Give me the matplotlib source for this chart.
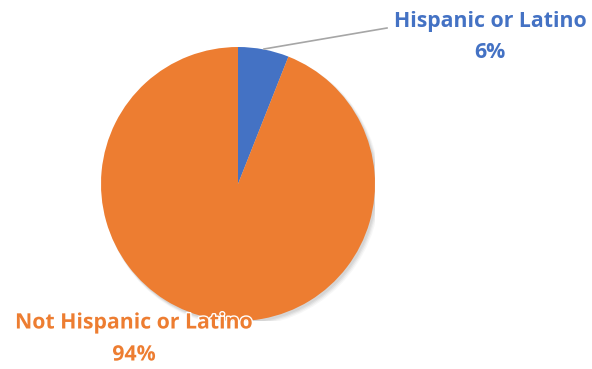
import matplotlib
matplotlib.use("Agg")
import matplotlib.pyplot as plt
import matplotlib.patheffects as pe
from matplotlib.patches import Circle

categories = ["Hispanic or Latino", "Not Hispanic or Latino"]
shares = [6, 94]
colors = ["#4472C4", "#ED7D31"]

W, H = 592, 369
fig = plt.figure(figsize=(W / 100, H / 100), dpi=100)
fig.patch.set_facecolor("white")

# pie centre and radius in pixels
cx, cy, r = 238, 184, 137
ax = fig.add_axes([(cx - r) / W, (H - cy - r) / H, 2 * r / W, 2 * r / H])
ax.axis("off")

# soft drop shadow beneath the pie
for i, a in enumerate([0.05, 0.05, 0.04, 0.03]):
    ax.add_patch(Circle((0.012 + 0.004 * i, -0.016 - 0.004 * i), 1.0 + 0.004 * i,
                        facecolor="black", alpha=a, edgecolor="none", zorder=0))

wedges, _ = ax.pie(shares, colors=colors, startangle=90, counterclock=False,
                   radius=1.0, wedgeprops=dict(edgecolor="none"))
for w in wedges:
    w.set_zorder(2)
ax.set_xlim(-1, 1)
ax.set_ylim(-1, 1)
ax.set_aspect("equal")

fig_ax = fig.add_axes([0, 0, 1, 1])
fig_ax.set_xlim(0, W)
fig_ax.set_ylim(H, 0)
fig_ax.axis("off")
fig_ax.patch.set_alpha(0)

# leader line for the small slice
fig_ax.plot([264, 387], [49, 28], color="#A6A6A6", lw=1.2, zorder=3)

font = dict(family=["Open Sans", "DejaVu Sans"], fontweight="bold", fontsize=15.3)
fig_ax.text(490, 22, categories[0], color=colors[0], ha="center", va="center", **font)
fig_ax.text(490, 53, f"{shares[0]}%", color=colors[0], ha="center", va="center", **font)

halo = [pe.withStroke(linewidth=2, foreground="white")]
fig_ax.text(134, 323, categories[1], color=colors[1], ha="center", va="center",
            path_effects=halo, zorder=4, **font)
fig_ax.text(134, 355, f"{shares[1]}%", color=colors[1], ha="center", va="center",
            path_effects=halo, zorder=4, **font)

fig.savefig("out.png", dpi=100, facecolor="white")
